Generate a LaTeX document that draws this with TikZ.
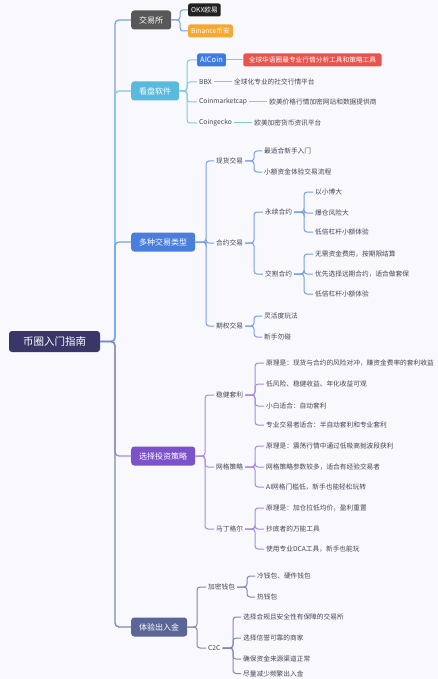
\documentclass[tikz,border=0pt]{standalone}
\usepackage{fontspec}
\setmainfont{Noto Sans CJK SC}
\usetikzlibrary{positioning}
\definecolor{bg}{RGB}{248,248,253}
\definecolor{rootc}{RGB}{58,55,104}
\definecolor{grayc}{RGB}{88,88,88}
\definecolor{okxc}{RGB}{34,34,34}
\definecolor{orangec}{RGB}{245,168,50}
\definecolor{cyanc}{RGB}{90,185,222}
\definecolor{cyanl}{RGB}{130,200,232}
\definecolor{bluec}{RGB}{74,126,220}
\definecolor{bluel}{RGB}{120,160,232}
\definecolor{aiblue}{RGB}{60,122,228}
\definecolor{redc}{RGB}{232,84,76}
\definecolor{purc}{RGB}{124,82,204}
\definecolor{purl}{RGB}{170,140,222}
\definecolor{slatec}{RGB}{92,102,150}
\definecolor{slatel}{RGB}{128,136,176}
\definecolor{txt}{RGB}{70,70,85}
\tikzset{
  rootbox/.style={fill=rootc, text=white, rounded corners=3pt, minimum width=91pt, minimum height=21pt, inner sep=0pt, font=\fontsize{10.5}{12}\selectfont},
  branch/.style={fill=#1, text=white, rounded corners=3pt, minimum height=19pt, inner xsep=8pt, inner ysep=0pt, anchor=west, font=\fontsize{8}{10}\selectfont},
  tag/.style={fill=#1, text=white, rounded corners=2pt, minimum height=13pt, inner xsep=3pt, inner ysep=0pt, anchor=west, font=\fontsize{6.7}{8}\selectfont},
  leaf/.style={text=txt, anchor=west, inner xsep=2pt, inner ysep=1pt, font=\fontsize{6.7}{8}\selectfont},
  link/.style={draw=#1, line width=1pt, rounded corners=3pt},
  mainlink/.style={draw=#1, line width=1.3pt, rounded corners=4pt}
}
\begin{document}
\begin{tikzpicture}[x=1pt,y=-1pt]
\fill[bg] (0,0) rectangle (438,679);
\useasboundingbox (0,0) rectangle (438,679);
% root and branches
\node[rootbox] (root) at (54.5,341.5) {币圈入门指南};
\coordinate (sp) at (115,341.5);
\node[branch=grayc] (b1) at (131,20) {交易所};
\node[branch=cyanc] (b2) at (131,91) {看盘软件};
\node[branch=bluec] (b3) at (131,242) {多种交易类型};
\node[branch=purc] (b4) at (131,456) {选择投资策略};
\node[branch=slatec] (b5) at (131,627) {体验出入金};
\draw[mainlink=bluel] (root.east) -- (sp) |- (b1.west);
\draw[mainlink=cyanl] (root.east) -- (sp) |- (b2.west);
\draw[mainlink=bluel] (root.east) -- (sp) |- (b3.west);
\draw[mainlink=purl] (root.east) -- (sp) |- (b4.west);
\draw[mainlink=slatel] (root.east) -- (sp) |- (b5.west);
% 交易所
\coordinate (j1) at (180,20);
\node[tag=okxc] (okx) at (188,10) {OKX欧易};
\node[tag=orangec] (bin) at (188,31) {Binance币安};
\foreach \c in {okx,bin} \draw[link=bluel] (b1.east) -- (j1) |- (\c.west);
% 看盘软件
\coordinate (j2) at (187,91);
\node[tag=aiblue, font=\fontsize{7.5}{9}\selectfont] (aic) at (197,60) {AICoin};
\node[tag=redc, inner xsep=5.5pt, right=17pt of aic] (aicd) {全球华语圈最专业行情分析工具和策略工具};
\node[leaf] (bbx) at (197,82) {BBX};
\node[leaf, right=18pt of bbx] (bbxd) {全球化专业的社交行情平台};
\node[leaf] (cmc) at (197,102) {Coinmarketcap};
\node[leaf, right=18pt of cmc] (cmcd) {欧美价格行情加密网站和数据提供商};
\node[leaf] (cg) at (197,123) {Coingecko};
\node[leaf, right=18pt of cg] (cgd) {欧美加密货币资讯平台};
\foreach \c in {aic,bbx,cmc,cg} \draw[link=cyanl] (b2.east) -- (j2) |- (\c.west);
\draw[link=cyanl] (aic.east) -- (aicd.west);
\draw[link=cyanl] (bbx.east) -- (bbxd.west);
\draw[link=cyanl] (cmc.east) -- (cmcd.west);
\draw[link=cyanl] (cg.east) -- (cgd.west);
% 多种交易类型
\coordinate (j3) at (206,242);
\node[leaf] (xh) at (214,161) {现货交易};
\node[leaf] (hy) at (214,243) {合约交易};
\node[leaf] (qq) at (214,326) {期权交易};
\foreach \c in {xh,hy,qq} \draw[link=bluel] (b3.east) -- (j3) |- (\c.west);
\coordinate (j3a) at (254,161);
\node[leaf] (xh1) at (262,151) {最适合新手入门};
\node[leaf] (xh2) at (262,172) {小额资金体验交易流程};
\foreach \c in {xh1,xh2} \draw[link=bluel] (xh.east) -- (j3a) |- (\c.west);
\coordinate (j3b) at (254,243);
\node[leaf] (yx) at (263,212) {永续合约};
\node[leaf] (jg) at (263,274) {交割合约};
\foreach \c in {yx,jg} \draw[link=bluel] (hy.east) -- (j3b) |- (\c.west);
\coordinate (j3c) at (304,212);
\node[leaf] (yx1) at (313,192) {以小博大};
\node[leaf] (yx2) at (313,213) {爆仓风险大};
\node[leaf] (yx3) at (313,232) {低倍杠杆小额体验};
\foreach \c in {yx1,yx2,yx3} \draw[link=bluel] (yx.east) -- (j3c) |- (\c.west);
\coordinate (j3d) at (304,274);
\node[leaf] (jg1) at (313,254) {无需资金费用，按期限结算};
\node[leaf] (jg2) at (313,274) {优先选择远期合约，适合做套保};
\node[leaf] (jg3) at (313,294) {低倍杠杆小额体验};
\foreach \c in {jg1,jg2,jg3} \draw[link=bluel] (jg.east) -- (j3d) |- (\c.west);
\coordinate (j3e) at (254,326);
\node[leaf] (qq1) at (262,316) {灵活度玩法};
\node[leaf] (qq2) at (262,337) {新手勿碰};
\foreach \c in {qq1,qq2} \draw[link=bluel] (qq.east) -- (j3e) |- (\c.west);
% 选择投资策略
\coordinate (j4) at (205,456);
\node[leaf] (wj) at (214,395) {稳健套利};
\node[leaf] (wg) at (214,467) {网格策略};
\node[leaf] (md) at (214,529) {马丁格尔};
\foreach \c in {wj,wg,md} \draw[link=purl] (b4.east) -- (j4) |- (\c.west);
\coordinate (j4a) at (255,395);
\node[leaf] (wj1) at (264,363) {原理是：现货与合约的风险对冲，赚资金费率的套利收益};
\node[leaf] (wj2) at (264,384) {低风险、稳健收益、年化收益可观};
\node[leaf] (wj3) at (264,406) {小白适合：自动套利};
\node[leaf] (wj4) at (264,425) {专业交易者适合：半自动套利和专业套利};
\foreach \c in {wj1,wj2,wj3,wj4} \draw[link=purl] (wj.east) -- (j4a) |- (\c.west);
\coordinate (j4b) at (255,467);
\node[leaf] (wg1) at (264,446) {原理是：震荡行情中通过低吸高抛波段获利};
\node[leaf] (wg2) at (264,467) {网格策略参数较多，适合有经验交易者};
\node[leaf] (wg3) at (264,487) {AI网格门槛低，新手也能轻松玩转};
\foreach \c in {wg1,wg2,wg3} \draw[link=purl] (wg.east) -- (j4b) |- (\c.west);
\coordinate (j4c) at (255,529);
\node[leaf] (md1) at (264,508) {原理是：加仓拉低均价，盈利重置};
\node[leaf] (md2) at (264,529) {抄底者的万能工具};
\node[leaf] (md3) at (264,549) {使用专业DCA工具，新手也能玩};
\foreach \c in {md1,md2,md3} \draw[link=purl] (md.east) -- (j4c) |- (\c.west);
% 体验出入金
\coordinate (j5) at (197,627);
\node[leaf] (qb) at (206,587) {加密钱包};
\node[leaf] (c2c) at (206,648) {C2C};
\foreach \c in {qb,c2c} \draw[link=slatel] (b5.east) -- (j5) |- (\c.west);
\coordinate (j5a) at (247,587);
\node[leaf] (qb1) at (255,576) {冷钱包、硬件钱包};
\node[leaf] (qb2) at (255,597) {热钱包};
\foreach \c in {qb1,qb2} \draw[link=slatel] (qb.east) -- (j5a) |- (\c.west);
\coordinate (j5b) at (233,648);
\node[leaf] (cc1) at (241,617) {选择合规且安全性有保障的交易所};
\node[leaf] (cc2) at (241,638) {选择信誉可靠的商家};
\node[leaf] (cc3) at (241,659) {确保资金来源渠道正常};
\node[leaf] (cc4) at (241,673.5) {尽量减少频繁出入金};
\foreach \c in {cc1,cc2,cc3,cc4} \draw[link=slatel] (c2c.east) -- (j5b) |- (\c.west);
\end{tikzpicture}
\end{document}
